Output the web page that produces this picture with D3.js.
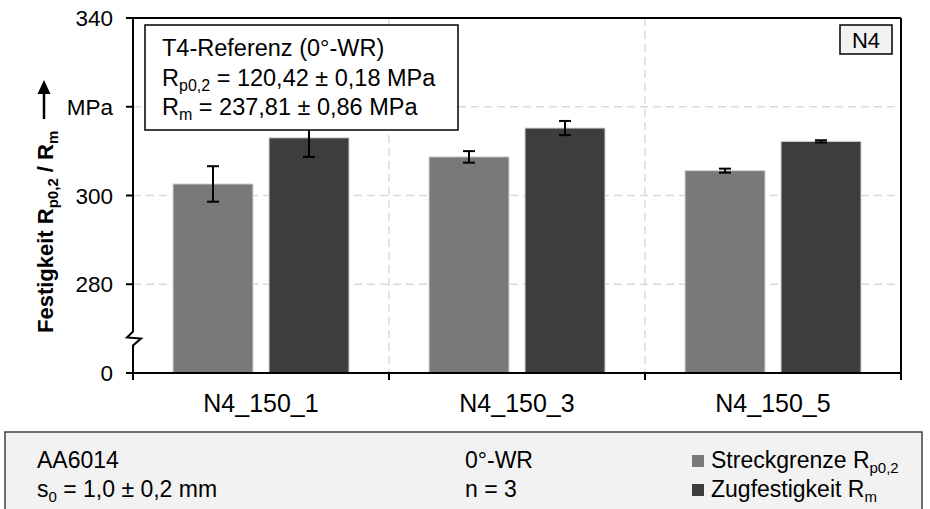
<!DOCTYPE html>
<html><head><meta charset="utf-8">
<script src="https://cdn.jsdelivr.net/npm/d3@7"></script>
<style>body{margin:0;background:#fff}svg{display:block}text{font-family:Arial,"Liberation Sans",sans-serif;fill:#000}</style>
</head><body>
<script>
const categories = ["N4_150_1", "N4_150_3", "N4_150_5"];
const series = ["Streckgrenze", "Zugfestigkeit"];
const streckgrenze = [302.6, 308.7, 305.6];
const streckgrenzeErr = [4.0, 1.3, 0.45];
const zugfestigkeit = [313.0, 315.2, 312.2];
const zugfestigkeitErr = [4.3, 1.6, 0.25];
const yTickValues = [260, 280, 300, 320, 340];
const yTickLabels = ["0", "280", "300", "MPa", "340"];
const gridValues = [280, 300, 320];
const colors = {Streckgrenze: "#797979", Zugfestigkeit: "#3d3d3d"};

const W = 930, H = 509;
const L = 133, R = 901, T = 18, B = 373;
const svg = d3.select("body").append("svg").attr("width", W).attr("height", H);

const y = d3.scaleLinear().domain([260, 340]).range([B, T]);
const x0 = d3.scaleBand().domain(categories).range([L, R]).padding(0);
const x1 = d3.scaleBand().domain(series).range([40, 216]).paddingInner(16/96).paddingOuter(0);

// grid
const grid = svg.append("g").attr("stroke", "#d9d9d9").attr("stroke-width", 1.5).attr("stroke-dasharray", "8,5");
grid.selectAll("line.h").data(gridValues).join("line").attr("class","h")
  .attr("x1", L).attr("x2", R).attr("y1", d => y(d)).attr("y2", d => y(d));
grid.selectAll("line.v").data(categories.slice(1)).join("line").attr("class","v")
  .attr("x1", d => x0(d)).attr("x2", d => x0(d)).attr("y1", T).attr("y2", B);

// bars
const data = categories.map((c, i) => ({c, vals: [
  {s: "Streckgrenze", v: streckgrenze[i], e: streckgrenzeErr[i]},
  {s: "Zugfestigkeit", v: zugfestigkeit[i], e: zugfestigkeitErr[i]}]}));
const g = svg.append("g");
const grp = g.selectAll("g").data(data).join("g").attr("transform", d => `translate(${x0(d.c)},0)`);
grp.selectAll("rect").data(d => d.vals).join("rect")
  .attr("x", d => x1(d.s)).attr("width", x1.bandwidth())
  .attr("y", d => y(d.v)).attr("height", d => B - y(d.v))
  .attr("fill", d => colors[d.s]).attr("stroke", "#d4d4d4").attr("stroke-width", 1);
const eb = grp.selectAll("g.eb").data(d => d.vals).join("g").attr("class","eb")
  .attr("stroke", "#000").attr("stroke-width", 2);
const cx = d => x1(d.s) + x1.bandwidth()/2;
eb.append("line").attr("x1", cx).attr("x2", cx)
  .attr("y1", d => y(d.v + d.e)).attr("y2", d => y(d.v - d.e));
eb.append("line").attr("x1", d => cx(d) - 6).attr("x2", d => cx(d) + 6)
  .attr("y1", d => y(d.v + d.e)).attr("y2", d => y(d.v + d.e));
eb.append("line").attr("x1", d => cx(d) - 6).attr("x2", d => cx(d) + 6)
  .attr("y1", d => y(d.v - d.e)).attr("y2", d => y(d.v - d.e));

// frame
const fr = svg.append("g").attr("stroke", "#000").attr("stroke-width", 2).attr("fill", "none");
fr.append("line").attr("x1", L).attr("x2", R).attr("y1", T).attr("y2", T);
fr.append("line").attr("x1", R).attr("x2", R).attr("y1", T).attr("y2", B + 7);
fr.append("line").attr("x1", L).attr("x2", R).attr("y1", B).attr("y2", B);
const yb = y(268);
fr.append("path").attr("d", `M${L},${T}L${L},${yb-6}L${L-6},${yb}L${L+8},${yb+1}L${L},${yb+8}L${L},${B+7}`);
fr.selectAll("line.yt").data(yTickValues).join("line").attr("class","yt")
  .attr("x1", L - 7).attr("x2", L).attr("y1", d => y(d)).attr("y2", d => y(d));
const bounds = categories.map(c => x0(c)).concat([R]);
fr.selectAll("line.xt").data(bounds).join("line").attr("class","xt")
  .attr("x1", d => d).attr("x2", d => d).attr("y1", B).attr("y2", B + 7);

// y labels
svg.append("g").selectAll("text").data(yTickValues).join("text")
  .attr("x", L - 20).attr("y", d => y(d)).attr("dy", "0.36em").attr("text-anchor", "end")
  .attr("font-size", 22.5).text((d, i) => yTickLabels[i]);
// x labels
svg.append("g").selectAll("text").data(categories).join("text")
  .attr("x", d => x0(d) + x0.bandwidth()/2).attr("y", 412).attr("text-anchor", "middle")
  .attr("font-size", 25).text(d => d);

// y title
const yt = svg.append("text").attr("transform", "translate(53,333) rotate(-90)")
  .attr("font-size", 22).attr("font-weight", "bold");
yt.append("tspan").text("Festigkeit R");
yt.append("tspan").attr("font-size", 15).attr("dy", 5).text("p0,2");
yt.append("tspan").attr("dy", -5).text(" / R");
yt.append("tspan").attr("font-size", 15).attr("dy", 5).text("m");
svg.append("line").attr("x1", 44).attr("x2", 44).attr("y1", 119).attr("y2", 92).attr("stroke", "#000").attr("stroke-width", 2.5);
svg.append("path").attr("d", "M37.5,94L44,80L50.5,94Z").attr("fill", "#000");

// annotation box
svg.append("rect").attr("x", 145).attr("y", 25).attr("width", 313).attr("height", 105)
  .attr("fill", "#fff").attr("stroke", "#000").attr("stroke-width", 1.5);
const ann = svg.append("g").attr("font-size", 23.5);
ann.append("text").attr("x", 162).attr("y", 56).text("T4-Referenz (0°-WR)");
const a2 = ann.append("text").attr("x", 162).attr("y", 86);
a2.append("tspan").text("R");
a2.append("tspan").attr("font-size", 16).attr("dy", 5).text("p0,2");
a2.append("tspan").attr("dy", -5).text(" = 120,42 ± 0,18 MPa");
const a3 = ann.append("text").attr("x", 162).attr("y", 115);
a3.append("tspan").text("R");
a3.append("tspan").attr("font-size", 16).attr("dy", 5).text("m");
a3.append("tspan").attr("dy", -5).text(" = 237,81 ± 0,86 MPa");

// N4 box
svg.append("rect").attr("x", 840).attr("y", 25).attr("width", 52).attr("height", 29)
  .attr("fill", "#f2f2f2").attr("stroke", "#000").attr("stroke-width", 1.5);
svg.append("text").attr("x", 866).attr("y", 48).attr("text-anchor", "middle").attr("font-size", 22).text("N4");

// footer
svg.append("rect").attr("x", 5).attr("y", 432).attr("width", 917).attr("height", 85)
  .attr("fill", "#f2f2f2").attr("stroke", "#404040").attr("stroke-width", 1.5);
const ft = svg.append("g").attr("font-size", 23);
ft.append("text").attr("x", 37).attr("y", 468).text("AA6014");
const s0 = ft.append("text").attr("x", 37).attr("y", 497);
s0.append("tspan").text("s");
s0.append("tspan").attr("font-size", 15).attr("dy", 5).text("0");
s0.append("tspan").attr("dy", -5).text(" = 1,0 ± 0,2 mm");
ft.append("text").attr("x", 465).attr("y", 468).text("0°-WR");
ft.append("text").attr("x", 465).attr("y", 497).text("n = 3");
const legY = [468, 497];
series.forEach((s, i) => {
  ft.append("rect").attr("x", 692).attr("y", legY[i] - 13).attr("width", 12).attr("height", 12).attr("fill", colors[s]);
});
const l1 = ft.append("text").attr("x", 711).attr("y", 468);
l1.append("tspan").text("Streckgrenze R");
l1.append("tspan").attr("font-size", 15).attr("dy", 5).text("p0,2");
const l2 = ft.append("text").attr("x", 711).attr("y", 497);
l2.append("tspan").text("Zugfestigkeit R");
l2.append("tspan").attr("font-size", 15).attr("dy", 5).text("m");
</script>
</body></html>
